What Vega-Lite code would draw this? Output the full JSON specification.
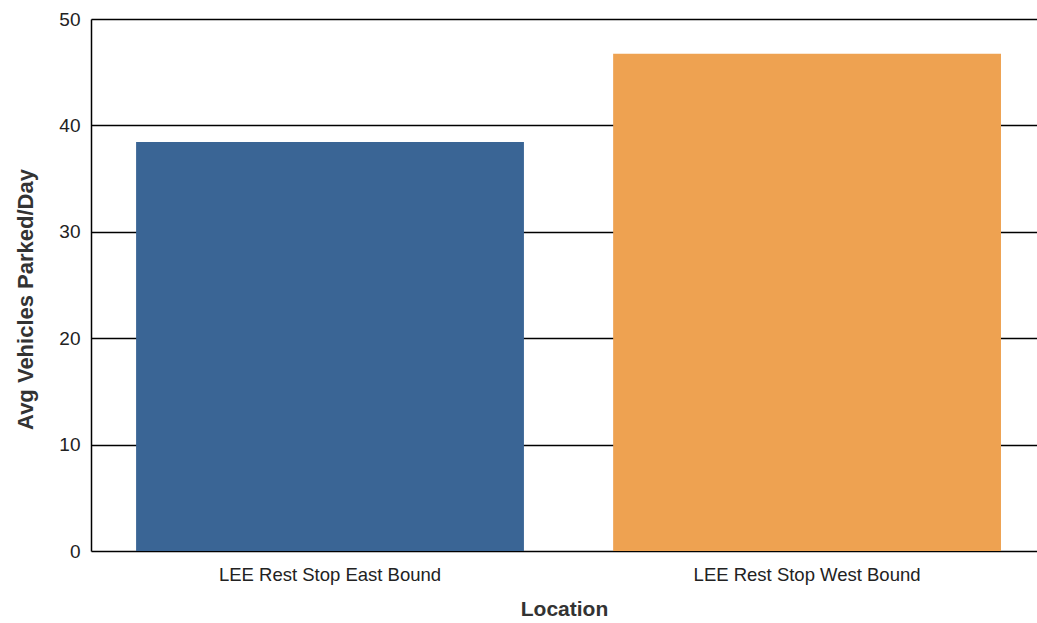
{
  "$schema": "https://vega.github.io/schema/vega-lite/v6.json",
  "autosize": "none",
  "width": 946,
  "height": 532,
  "padding": {"left": 91, "top": 19, "right": 0, "bottom": 72},
  "background": "white",
  "config": {"view": {"stroke": null}, "font": "Liberation Sans"},
  "data": {"values": [
    {"Location": "LEE Rest Stop East Bound", "value": 38.45},
    {"Location": "LEE Rest Stop West Bound", "value": 46.73}
  ]},
  "mark": {"type": "bar"},
  "encoding": {
    "x": {"field": "Location", "type": "nominal", "sort": null,
      "scale": {"paddingInner": 0.187, "paddingOuter": 0.085, "align": 0.556},
      "axis": {"title": "Location", "labelAngle": 0, "labelFontSize": 18.5, "labelLimit": 500, "labelColor": "#222", "domain": false, "ticks": false, "labelPadding": 14, "titleFontSize": 21, "titleFontWeight": "bold", "titleColor": "#333", "titlePadding": 15}},
    "y": {"field": "value", "type": "quantitative",
      "scale": {"domain": [0, 50], "nice": false},
      "axis": {"title": "Avg Vehicles Parked/Day", "values": [0, 10, 20, 30, 40, 50], "grid": true, "gridColor": "#000", "gridWidth": 1.5, "gridOpacity": 1, "domainColor": "#000", "domainWidth": 1.5, "ticks": false, "labelPadding": 11, "labelFontSize": 19, "labelColor": "#222", "titleFontSize": 22, "titleFontWeight": "bold", "titleColor": "#333", "titlePadding": 21, "titleY": 280}},
    "color": {"field": "Location", "type": "nominal", "legend": null,
      "scale": {"range": ["#3A6595", "#EEA251"]}}
  }
}
